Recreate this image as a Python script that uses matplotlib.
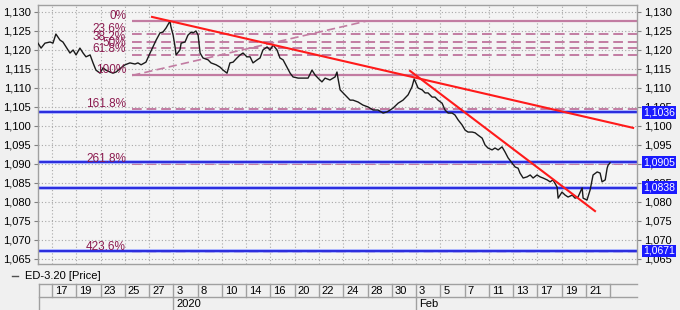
import matplotlib
matplotlib.use('Agg')
import matplotlib.pyplot as plt
from matplotlib.lines import Line2D
from matplotlib.ticker import FuncFormatter

plt.rcParams['font.family'] = ['Liberation Sans', 'DejaVu Sans']

# ---------------- data ----------------
date_labels = ['17', '19', '23', '25', '27', '3', '8', '10', '14', '16', '20', '22',
               '24', '28', '30', '3', '5', '7', '11', '13', '17', '19', '21']
period_labels = ['2020', 'Feb']
period_starts = [5, 15]
series_name = 'ED-3.20 [Price]'

price_x = [-0.58, -0.45, -0.29, -0.08, 0.04, 0.16, 0.33, 0.45, 0.58, 0.74, 0.87, 0.99,
           1.15, 1.28, 1.40, 1.57, 1.69, 1.81, 1.98, 2.10, 2.22, 2.39, 2.51, 2.64, 2.84,
           3.01, 3.21, 3.42, 3.54, 3.67, 3.87, 4.04, 4.16, 4.29, 4.45, 4.57, 4.70, 4.86,
           4.90, 4.99, 5.07, 5.11, 5.27, 5.32, 5.48, 5.60, 5.73, 5.81, 5.93, 6.02, 6.10,
           6.22, 6.43, 6.55, 6.76,
           6.92, 7.05, 7.21, 7.33, 7.46, 7.62, 7.75, 7.87, 8.03, 8.16, 8.28, 8.45, 8.57,
           8.69, 8.86, 8.98, 9.11, 9.27, 9.39, 9.52, 9.68, 9.81, 9.93, 10.14, 10.34,
           10.55, 10.71, 10.84, 10.96, 11.12, 11.25, 11.45, 11.66, 11.74, 11.78, 11.87,
           11.99, 12.15, 12.28, 12.40, 12.61, 12.81, 13.02, 13.23, 13.43, 13.64, 13.80,
           13.93, 14.05, 14.26, 14.46, 14.67,
           14.83, 14.92, 15.08, 15.25, 15.37, 15.49, 15.66, 15.78, 15.90, 16.07, 16.19,
           16.32, 16.48, 16.60, 16.73, 16.89, 17.02, 17.14, 17.31, 17.43, 17.55, 17.72,
           17.84, 17.96, 18.13, 18.25, 18.38, 18.54, 18.66, 18.79, 18.95, 19.08, 19.20,
           19.28, 19.41, 19.57, 19.70, 19.82, 19.98, 20.11, 20.23, 20.40, 20.52, 20.64,
           20.81, 20.85, 21.01, 21.14, 21.26, 21.43, 21.55, 21.67, 21.84, 21.88, 22.04,
           22.17, 22.25, 22.29, 22.46, 22.58, 22.66, 22.79, 22.87, 22.91, 22.99]
price_y = [1.1218, 1.1205, 1.1218, 1.1221, 1.1218, 1.1242, 1.1226, 1.1221, 1.1208, 1.1192,
           1.1200, 1.1187, 1.1205, 1.1192, 1.1182, 1.1187, 1.1166, 1.1147, 1.1139, 1.1153,
           1.1147, 1.1142, 1.1139, 1.1142, 1.1153, 1.1161, 1.1166, 1.1163, 1.1166, 1.1161,
           1.1168, 1.1192, 1.1208, 1.1226, 1.1245, 1.1247, 1.1258, 1.1276, 1.1261, 1.1239,
           1.1208, 1.1187, 1.1200, 1.1218, 1.1221, 1.1239, 1.1247, 1.1245, 1.1250, 1.1239,
           1.1192, 1.1179, 1.1174, 1.1166, 1.1161,
           1.1155, 1.1147, 1.1139, 1.1166, 1.1168, 1.1179, 1.1187, 1.1192, 1.1182, 1.1182,
           1.1166, 1.1174, 1.1179, 1.1200, 1.1208, 1.1200, 1.1213, 1.1200, 1.1179, 1.1174,
           1.1155, 1.1139, 1.1129, 1.1126, 1.1126, 1.1126, 1.1147, 1.1134, 1.1126, 1.1116,
           1.1126, 1.1121, 1.1129, 1.1142, 1.1126, 1.1095, 1.1087, 1.1076, 1.1068, 1.1068,
           1.1063, 1.1055, 1.1050, 1.1042, 1.1042, 1.1034, 1.1037, 1.1042, 1.1047, 1.1060,
           1.1068, 1.1082,
           1.1103, 1.1124, 1.1100, 1.1095, 1.1087, 1.1087, 1.1076, 1.1076, 1.1068, 1.1060,
           1.1042, 1.1034, 1.1034, 1.1029, 1.1016, 1.1003, 1.0989, 1.0984, 1.0984, 1.0982,
           1.0976, 1.0968, 1.0950, 1.0942, 1.0937, 1.0942, 1.0937, 1.0945, 1.0932, 1.0916,
           1.0903, 1.0892, 1.0889,
           1.0876, 1.0863, 1.0866, 1.0871, 1.0863, 1.0871, 1.0866, 1.0863, 1.0858, 1.0853,
           1.0858, 1.0839, 1.0810, 1.0826, 1.0818, 1.0813, 1.0818, 1.0810, 1.0813, 1.0837,
           1.0810, 1.0805, 1.0832, 1.0858, 1.0871, 1.0879, 1.0876, 1.0853, 1.0858, 1.0889,
           1.0897, 1.0903]

fib_pcts = ['0%', '23.6%', '38.2%', '50%', '61.8%', '100%', '161.8%', '261.8%', '423.6%']
fib_levels = [1.1277, 1.1243, 1.1222, 1.1205, 1.1188, 1.1133, 1.1044, 1.0900, 1.0667]
fib_solid = [True, False, False, False, False, True, False, False, False]
fib_start = 3.30
fib_diag_x = [3.30, 13.02]
fib_diag_y = [1.1133, 1.1277]

trend1_x = [4.12, 23.94]
trend1_y = [1.1287, 1.0995]
trend2_x = [14.75, 22.37]
trend2_y = [1.1145, 1.0776]

level_lines = [1.1036, 1.0905, 1.0838, 1.0671]

y_ticks = [1.065, 1.070, 1.075, 1.080, 1.085, 1.090, 1.095, 1.100, 1.105, 1.110,
           1.115, 1.120, 1.125, 1.130]

# ---------------- figure ----------------
W, H = 680, 310
fig = plt.figure(figsize=(W / 100, H / 100), dpi=100)
fig.patch.set_facecolor('#f0f0f0')

L, R, T, B = 38, 637, 5, 264
ax = fig.add_axes([L / W, 1 - B / H, (R - L) / W, (B - T) / H])
ax.set_facecolor('#f4f4f4')
XMIN, XMAX = -0.577, 24.10
ax.set_xlim(XMIN, XMAX)
ax.set_ylim(1.06367, 1.13184)

ax.set_xticks(range(len(date_labels)))
ax.set_xticklabels([])
ax.tick_params(axis='x', length=0)
ax.set_yticks(y_ticks)
ax.yaxis.set_major_formatter(FuncFormatter(lambda v, p: f'{v:.3f}'.replace('.', ',')))
ax.tick_params(axis='y', left=True, right=True, labelleft=True, labelright=True,
               length=3, width=0.8, color='#808080', pad=2, labelsize=8)
ax.grid(True, color='#a8a8a8', linestyle=(0, (1, 2)), linewidth=0.8)
ax.set_axisbelow(True)
for s in ax.spines.values():
    s.set_color('#a0a0a0')
    s.set_linewidth(1)

fib_line_color = '#c27ca2'
fib_text_color = '#8b1a4f'
for pct, lvl, solid in zip(fib_pcts, fib_levels, fib_solid):
    ax.hlines(lvl, fib_start, XMAX, color=fib_line_color,
              lw=1.6 if solid else 1.4,
              linestyles='-' if solid else (0, (5, 2.5)), zorder=2)
    ax.annotate(pct, (fib_start - 0.25, lvl), xytext=(0, 1.5), textcoords='offset points',
                ha='right', va='baseline', color=fib_text_color, fontsize=8.5, zorder=4)
ax.plot(fib_diag_x, fib_diag_y, color=fib_line_color, lw=1.2, ls=(0, (5, 2.5)), zorder=2)

for lvl in level_lines:
    ax.axhline(lvl, color='#9ca8ff', lw=2.6, zorder=2)
    ax.axhline(lvl, color='#1616d8', lw=1.2, zorder=2)
    ax.text(1.0105, lvl, f'{lvl:.4f}'.replace('.', ','), transform=ax.get_yaxis_transform(),
            ha='left', va='center', color='white', fontsize=7.5, clip_on=False, zorder=10,
            bbox=dict(boxstyle='square,pad=0.12', fc='#1a1aff', ec='none'))

ax.plot(price_x, price_y, color='#1a1a1a', lw=1.0, zorder=3)
ax.plot(trend1_x, trend1_y, color='#ff1a1a', lw=1.5, zorder=5)
ax.plot(trend2_x, trend2_y, color='#ff1a1a', lw=1.5, zorder=5)

# legend line
ly = 1 - 276 / H
fig.add_artist(Line2D([12 / W, 18 / W], [ly, ly], color='#505050', lw=1))
fig.text(25 / W, ly, series_name, va='center', ha='left', fontsize=8)

# date table
tax = fig.add_axes([L / W, 0, (R - L) / W, 27 / H])
tax.set_xlim(XMIN, XMAX)
tax.set_ylim(0, 27)
tax.axis('off')
tc = '#a0a0a0'
x_left = XMIN + 0.04
tax.plot([x_left, XMAX], [26.5, 26.5], color=tc, lw=1, clip_on=False)
tax.plot([x_left, XMAX], [13, 13], color=tc, lw=1, clip_on=False)
tax.plot([x_left, x_left], [0, 26.5], color=tc, lw=1, clip_on=False)
for i, lab in enumerate(date_labels):
    tax.plot([i, i], [13, 26.5], color=tc, lw=1)
    tax.text(i + 0.12, 19.5, lab, ha='left', va='center', fontsize=8)
tax.plot([len(date_labels), len(date_labels)], [13, 26.5], color=tc, lw=1)
for lab, st in zip(period_labels, period_starts):
    tax.plot([st, st], [0, 13], color=tc, lw=1)
    tax.text(st + 0.12, 6, lab, ha='left', va='center', fontsize=8)

fig.savefig('out.png', dpi=100, facecolor=fig.get_facecolor())
